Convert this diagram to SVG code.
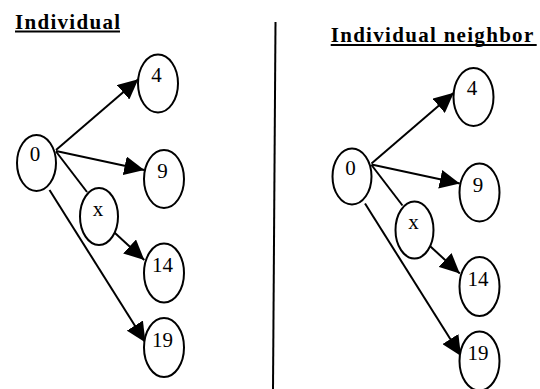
<svg xmlns="http://www.w3.org/2000/svg" width="540" height="389" viewBox="0 0 540 389">
  <style>
    .node ellipse { fill: #ffffff; stroke: #000000; stroke-width: 2; }
    .node text { font-family: "Liberation Serif", "Times New Roman", serif; font-size: 21px; fill: #000000; text-anchor: middle; }
    .edge { stroke: #000000; stroke-width: 2; fill: none; }
    .arrow { marker-end: url(#head); }
    .title { font-family: "Liberation Serif", "Times New Roman", serif; font-size: 21px; font-weight: bold; letter-spacing: 1.3px; fill: #000000; }
    .rule { stroke: #000000; stroke-width: 2; }
  </style>
  <defs>
    <marker id="head" markerUnits="userSpaceOnUse" viewBox="0 0 20 19" refX="20" refY="9.5" markerWidth="20" markerHeight="19" orient="auto">
      <path d="M0,0 L20,9.5 L0,19 Z" fill="#000000"/>
    </marker>
  </defs>

  <rect width="540" height="389" fill="#ffffff"/>

  <!-- headings -->
  <g id="heading-left">
    <text class="title" x="15" y="28.5">Individual</text>
    <line class="rule" x1="15" y1="31.5" x2="120" y2="31.5"/>
  </g>
  <g id="heading-right">
    <text class="title" x="330.7" y="42">Individual neighbor</text>
    <line class="rule" x1="330.7" y1="45" x2="536.7" y2="45"/>
  </g>

  <!-- divider -->
  <line id="divider" class="rule" x1="275.5" y1="22" x2="273" y2="389"/>

  <!-- connectors -->
  <g id="connectors">
    <!-- left -->
    <line class="edge arrow" x1="56" y1="150" x2="138.3" y2="79.3"/>
    <line class="edge arrow" x1="56" y1="151" x2="144.3" y2="170"/>
    <line class="edge" x1="56" y1="151.5" x2="87" y2="192"/>
    <line class="edge arrow" x1="111.7" y1="230" x2="144.3" y2="260"/>
    <line class="edge arrow" x1="49.5" y1="190" x2="145.5" y2="342.5"/>
    <!-- right -->
    <line class="edge arrow" x1="371.5" y1="163.5" x2="453.8" y2="92.8"/>
    <line class="edge arrow" x1="371.5" y1="164.5" x2="459.8" y2="183.5"/>
    <line class="edge" x1="371.5" y1="165" x2="402.5" y2="205.5"/>
    <line class="edge arrow" x1="427.2" y1="243.5" x2="459.8" y2="273.5"/>
    <line class="edge arrow" x1="365" y1="203.5" x2="461" y2="356"/>
  </g>

  <!-- left graph -->
  <g id="L0" class="node"><ellipse cx="36.5" cy="163" rx="19.5" ry="28"/><text x="35" y="161">0</text></g>
  <g id="L4" class="node"><ellipse cx="158" cy="83.5" rx="20" ry="29"/><text x="156.5" y="81.5">4</text></g>
  <g id="L9" class="node"><ellipse cx="164" cy="179" rx="20" ry="29"/><text x="162.5" y="178">9</text></g>
  <g id="Lx" class="node"><ellipse cx="99" cy="216.5" rx="19" ry="28.5"/><text x="98" y="215.5">x</text></g>
  <g id="L14" class="node"><ellipse cx="164" cy="273" rx="20" ry="29.5"/><text x="162.5" y="272">14</text></g>
  <g id="L19" class="node"><ellipse cx="164" cy="347.5" rx="20" ry="29.5"/><text x="162.5" y="346.5">19</text></g>

  <!-- right graph -->
  <g id="R0" class="node"><ellipse cx="352" cy="176.5" rx="19.5" ry="28"/><text x="350.5" y="174.5">0</text></g>
  <g id="R4" class="node"><ellipse cx="473.5" cy="97" rx="20" ry="29"/><text x="472" y="95">4</text></g>
  <g id="R9" class="node"><ellipse cx="479.5" cy="192.5" rx="20" ry="29"/><text x="478" y="191.5">9</text></g>
  <g id="Rx" class="node"><ellipse cx="414.5" cy="230" rx="19" ry="28.5"/><text x="413.5" y="229">x</text></g>
  <g id="R14" class="node"><ellipse cx="479.5" cy="286.5" rx="20" ry="29.5"/><text x="478" y="285.5">14</text></g>
  <g id="R19" class="node"><ellipse cx="479.5" cy="361" rx="20" ry="29.5"/><text x="478" y="360">19</text></g>
</svg>
